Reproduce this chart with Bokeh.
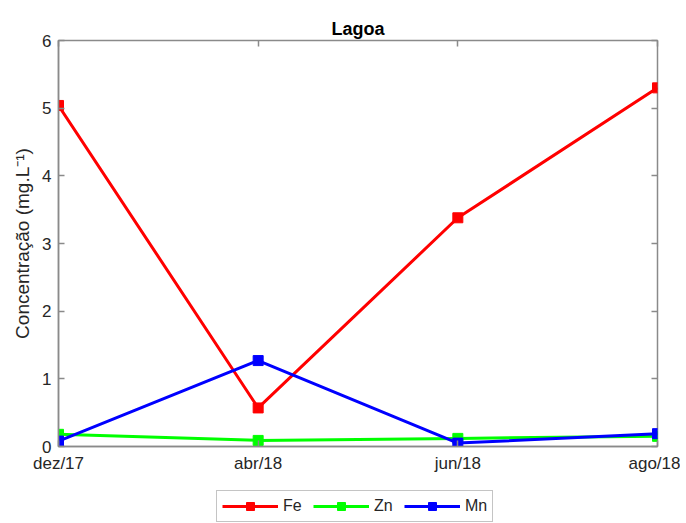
from bokeh.plotting import figure
from bokeh.layouts import column
from bokeh.models import (FixedTicker, LinearAxis, Range1d, Legend, LegendItem,
                          ColumnDataSource)
from bokeh.embed import file_html
from bokeh.resources import INLINE

# Data
categories = ["dez/17", "abr/18", "jun/18", "ago/18"]
fe = [5.04, 0.57, 3.38, 5.30]
zn = [0.18, 0.09, 0.12, 0.15]
mn = [0.08, 1.27, 0.05, 0.19]
series_names = ["Fe", "Zn", "Mn"]
series_colors = ["#ff0000", "#00ff00", "#0000ff"]
y_ticks = [0, 1, 2, 3, 4, 5, 6]

x = list(range(len(categories)))
FONT = "Liberation Sans"
AX = "#8a8a8a"
TXT = "#262626"
W = 680

p = figure(width=W, height=478, output_backend="svg", toolbar_location=None,
           x_range=Range1d(0, len(categories) - 1), y_range=Range1d(0, 6),
           min_border_left=58, min_border_right=W - 657, min_border_top=40,
           min_border_bottom=32)
p.background_fill_color = "white"
p.border_fill_color = "white"
p.outline_line_color = AX
p.outline_line_width = 1.5
p.grid.visible = False

p.title.text = "Lagoa"
p.title.align = "center"
p.title.text_font = FONT
p.title.text_font_size = "18px"
p.title.text_font_style = "bold"
p.title.text_color = "black"
p.title.offset = 0
p.title.standoff = 4

xa = p.xaxis[0]
xa.ticker = FixedTicker(ticks=x)
xa.major_label_overrides = {i: c for i, c in enumerate(categories)}
ya = p.yaxis[0]
ya.ticker = FixedTicker(ticks=y_ticks)
ya.axis_label = "Concentração (mg.L⁻¹)"
ya.axis_label_text_font = FONT
ya.axis_label_text_font_size = "19px"
ya.axis_label_text_font_style = "normal"
ya.axis_label_text_color = TXT
ya.axis_label_standoff = 6

for ax in (xa, ya):
    ax.axis_line_color = AX
    ax.axis_line_width = 1.5
    ax.major_tick_line_color = AX
    ax.major_tick_line_width = 1.5
    ax.major_tick_in = 6
    ax.major_tick_out = 0
    ax.minor_tick_line_color = None
    ax.major_label_text_font = FONT
    ax.major_label_text_font_size = "17px"
    ax.major_label_text_color = TXT
    ax.major_label_standoff = 7

# Box ticks on top and right (no labels)
top = LinearAxis(ticker=FixedTicker(ticks=x),
                 major_label_overrides={i: "" for i in x},
                 axis_line_color=None, major_tick_line_color=AX,
                 major_tick_line_width=1.5, major_tick_in=6, major_tick_out=0,
                 minor_tick_line_color=None, major_label_standoff=0,
                 major_label_text_font_size="1px")
right = LinearAxis(ticker=FixedTicker(ticks=y_ticks),
                   major_label_overrides={i: "" for i in y_ticks},
                   axis_line_color=None, major_tick_line_color=AX,
                   major_tick_line_width=1.5, major_tick_in=6, major_tick_out=0,
                   minor_tick_line_color=None, major_label_standoff=0,
                   major_label_text_font_size="1px")
p.add_layout(top, "above")
p.add_layout(right, "right")

for vals, col in zip([fe, zn, mn], series_colors):
    src = ColumnDataSource(dict(x=x, y=vals))
    p.line("x", "y", source=src, line_color=col, line_width=3)
    p.scatter("x", "y", source=src, marker="square", size=10,
              fill_color=col, line_color=col)

# Legend strip below the plot (its view range excludes the data, so only the
# legend is visible)
lg = figure(width=W, height=523 - 478, output_backend="svg", toolbar_location=None,
            x_range=Range1d(-20, -19), y_range=Range1d(-20, -19),
            min_border_left=58, min_border_right=W - 657, min_border_top=0,
            min_border_bottom=0)
lg.axis.visible = False
lg.grid.visible = False
lg.outline_line_color = None
lg.background_fill_color = "white"
lg.border_fill_color = "white"
items = []
for name, vals, col in zip(series_names, [fe, zn, mn], series_colors):
    src = ColumnDataSource(dict(x=x, y=vals))
    r1 = lg.line("x", "y", source=src, line_color=col, line_width=3)
    r2 = lg.scatter("x", "y", source=src, marker="square", size=10,
                    fill_color=col, line_color=col)
    items.append(LegendItem(label=name, renderers=[r1, r2]))

legend = Legend(items=items, orientation="horizontal", location=(158, 1),
                label_text_font=FONT, label_text_font_size="16px",
                label_text_color=TXT, glyph_width=56, glyph_height=20,
                label_standoff=5, spacing=10, padding=5, margin=0,
                border_line_color=AX, border_line_width=1.5,
                background_fill_color="white")
lg.add_layout(legend, "center")

layout = column(p, lg, spacing=0)
open("out.html", "w").write(file_html(layout, INLINE))
